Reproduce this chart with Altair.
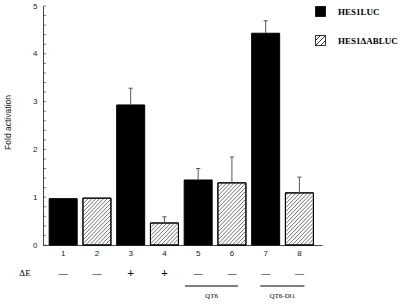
import altair as alt
import pandas as pd

# ---- data ----
bars = [1, 2, 3, 4, 5, 6, 7, 8]
bar_labels = ["1", "2", "3", "4", "5", "6", "7", "8"]
series = ["HES1LUC", "HES1ΔABLUC"] * 4
values = [0.97, 0.98, 2.93, 0.46, 1.36, 1.30, 4.43, 1.09]
err_top = [None, None, 3.28, 0.59, 1.60, 1.84, 4.69, 1.42]
delta_e = ["—", "—", "+", "+", "—", "—", "—", "—"]
groups = ["QT6", "QT6-Dl1"]
group_start = [4.61, 6.84]
group_end = [6.18, 8.15]
y_ticks = [i / 5 for i in range(26)]

W, H = 279, 239
PX_X = 35.0           # pixels per bar unit
PX_Y = H / 5.0        # pixels per fold unit
X0 = 0.55
xdom = [X0, X0 + W / PX_X]

df = pd.DataFrame({"bar": bars, "series": series, "value": values, "err": err_top})
err_df = df.dropna(subset=["err"]).copy()
err_df["cl"] = err_df["bar"] - 2.2 / PX_X
err_df["cr"] = err_df["bar"] + 2.2 / PX_X

# hatch segments (45 degrees in pixel space) clipped to the hatched bars
rows = []
bw = 28.0
step = 4.0
for b, s, v in zip(bars, series, values):
    if s != "HES1ΔABLUC":
        continue
    hp = v * PX_Y
    left = b - (bw / 2) / PX_X
    k = -bw + 1.5
    while k < hp:
        us = max(0.0, -k)
        ue = min(bw, hp - k)
        if ue - us > 0.3:
            rows.append({"x": left + us / PX_X, "y": (us + k) / PX_Y,
                         "x2": left + ue / PX_X, "y2": (ue + k) / PX_Y})
        k += step
hatch_df = pd.DataFrame(rows)

lab_df = pd.DataFrame({"bar": bars, "lab": bar_labels, "sign": delta_e})
grp_df = pd.DataFrame({"g": groups, "s": group_start, "e": group_end})
grp_df["mid"] = (grp_df["s"] + grp_df["e"]) / 2
tick_df = pd.DataFrame({"t": y_ticks})

xs = alt.Scale(domain=xdom, nice=False, zero=False)
ys = alt.Scale(domain=[0, 5], nice=False)

legend_path = "M-1,-1H1V1H-1Z M-1,0L0,-1 M-1,1L1,-1 M0,1L1,0"

base = alt.Chart(df)

bar_layer = base.mark_bar(size=28, stroke="black", strokeWidth=1).encode(
    x=alt.X("bar:Q", scale=xs,
            axis=alt.Axis(labels=False, ticks=False, title=None,
                          domainColor="#444", grid=False)),
    y=alt.Y("value:Q", scale=ys,
            axis=alt.Axis(values=[0, 1, 2, 3, 4, 5], title="Fold activation",
                          tickSize=0, labelPadding=6, labelFont="Liberation Sans",
                          labelFontSize=8, labelColor="#222", domainColor="#444",
                          titleFont="Liberation Sans", titleFontSize=8.5,
                          titleFontWeight="normal", titleColor="#222",
                          titlePadding=20, titleY=116, grid=False)),
    fill=alt.Fill("series:N",
                  scale=alt.Scale(domain=["HES1LUC", "HES1ΔABLUC"],
                                  range=["black", "white"]),
                  legend=alt.Legend(title=None, orient="none", legendX=272,
                                    legendY=0, symbolType=legend_path,
                                    symbolSize=100, symbolStrokeColor="black",
                                    symbolStrokeWidth=0.8, rowPadding=14,
                                    labelOffset=12, labelFont="Liberation Serif",
                                    labelFontSize=9, labelFontWeight="bold",
                                    labelColor="black", padding=0)),
)

tick_layer = alt.Chart(tick_df).mark_tick(
    orient="horizontal", size=3, thickness=1, color="#444"
).encode(y=alt.Y("t:Q", scale=ys), x=alt.value(1.5))

hatch_layer = alt.Chart(hatch_df).mark_rule(color="#333", strokeWidth=0.7).encode(
    x=alt.X("x:Q", scale=xs), y=alt.Y("y:Q", scale=ys),
    x2="x2:Q", y2="y2:Q"
)

outline_layer = alt.Chart(df[df["series"] == "HES1ΔABLUC"]).mark_bar(
    size=28, fillOpacity=0, stroke="black", strokeWidth=1
).encode(x=alt.X("bar:Q", scale=xs), y=alt.Y("value:Q", scale=ys))

err_v = alt.Chart(err_df).mark_rule(color="#555", strokeWidth=1).encode(
    x=alt.X("bar:Q", scale=xs), y=alt.Y("value:Q", scale=ys), y2="err:Q"
)
err_cap = alt.Chart(err_df).mark_rule(color="#555", strokeWidth=1).encode(
    x=alt.X("cl:Q", scale=xs), x2="cr:Q", y=alt.Y("err:Q", scale=ys)
)

num_layer = alt.Chart(lab_df).mark_text(
    font="Liberation Sans", fontSize=8, color="#222", baseline="middle"
).encode(x=alt.X("bar:Q", scale=xs), y=alt.value(248), text="lab:N")

sign_layer = alt.Chart(lab_df).mark_text(
    font="Liberation Serif", fontWeight="bold", color="black",
    baseline="middle"
).encode(
    x=alt.X("bar:Q", scale=xs), y=alt.value(267), text="sign:N",
    size=alt.condition(alt.datum.sign == "+", alt.value(12), alt.value(9)),
)

de_label = alt.Chart(pd.DataFrame({"t": ["ΔE"]})).mark_text(
    font="Liberation Serif", fontSize=9, color="black", baseline="middle"
).encode(x=alt.value(-18), y=alt.value(267), text="t:N")

grp_line = alt.Chart(grp_df).mark_rule(color="black", strokeWidth=1).encode(
    x=alt.X("s:Q", scale=xs), x2="e:Q", y=alt.value(280)
)
grp_text = alt.Chart(grp_df).mark_text(
    font="Liberation Serif", fontSize=7, color="black", baseline="middle"
).encode(x=alt.X("mid:Q", scale=xs), y=alt.value(290), text="g:N")

chart = alt.layer(
    bar_layer, tick_layer, hatch_layer, outline_layer, err_v, err_cap,
    num_layer, sign_layer, de_label, grp_line, grp_text
).properties(
    width=W, height=H,
    autosize=alt.AutoSizeParams(type="none"),
    padding={"left": 43, "top": 6, "right": 400 - 43 - W, "bottom": 304 - 6 - H},
    background="white",
).configure_view(stroke=None)

chart.save("out.html", embed_options={"renderer": "svg", "actions": False})
